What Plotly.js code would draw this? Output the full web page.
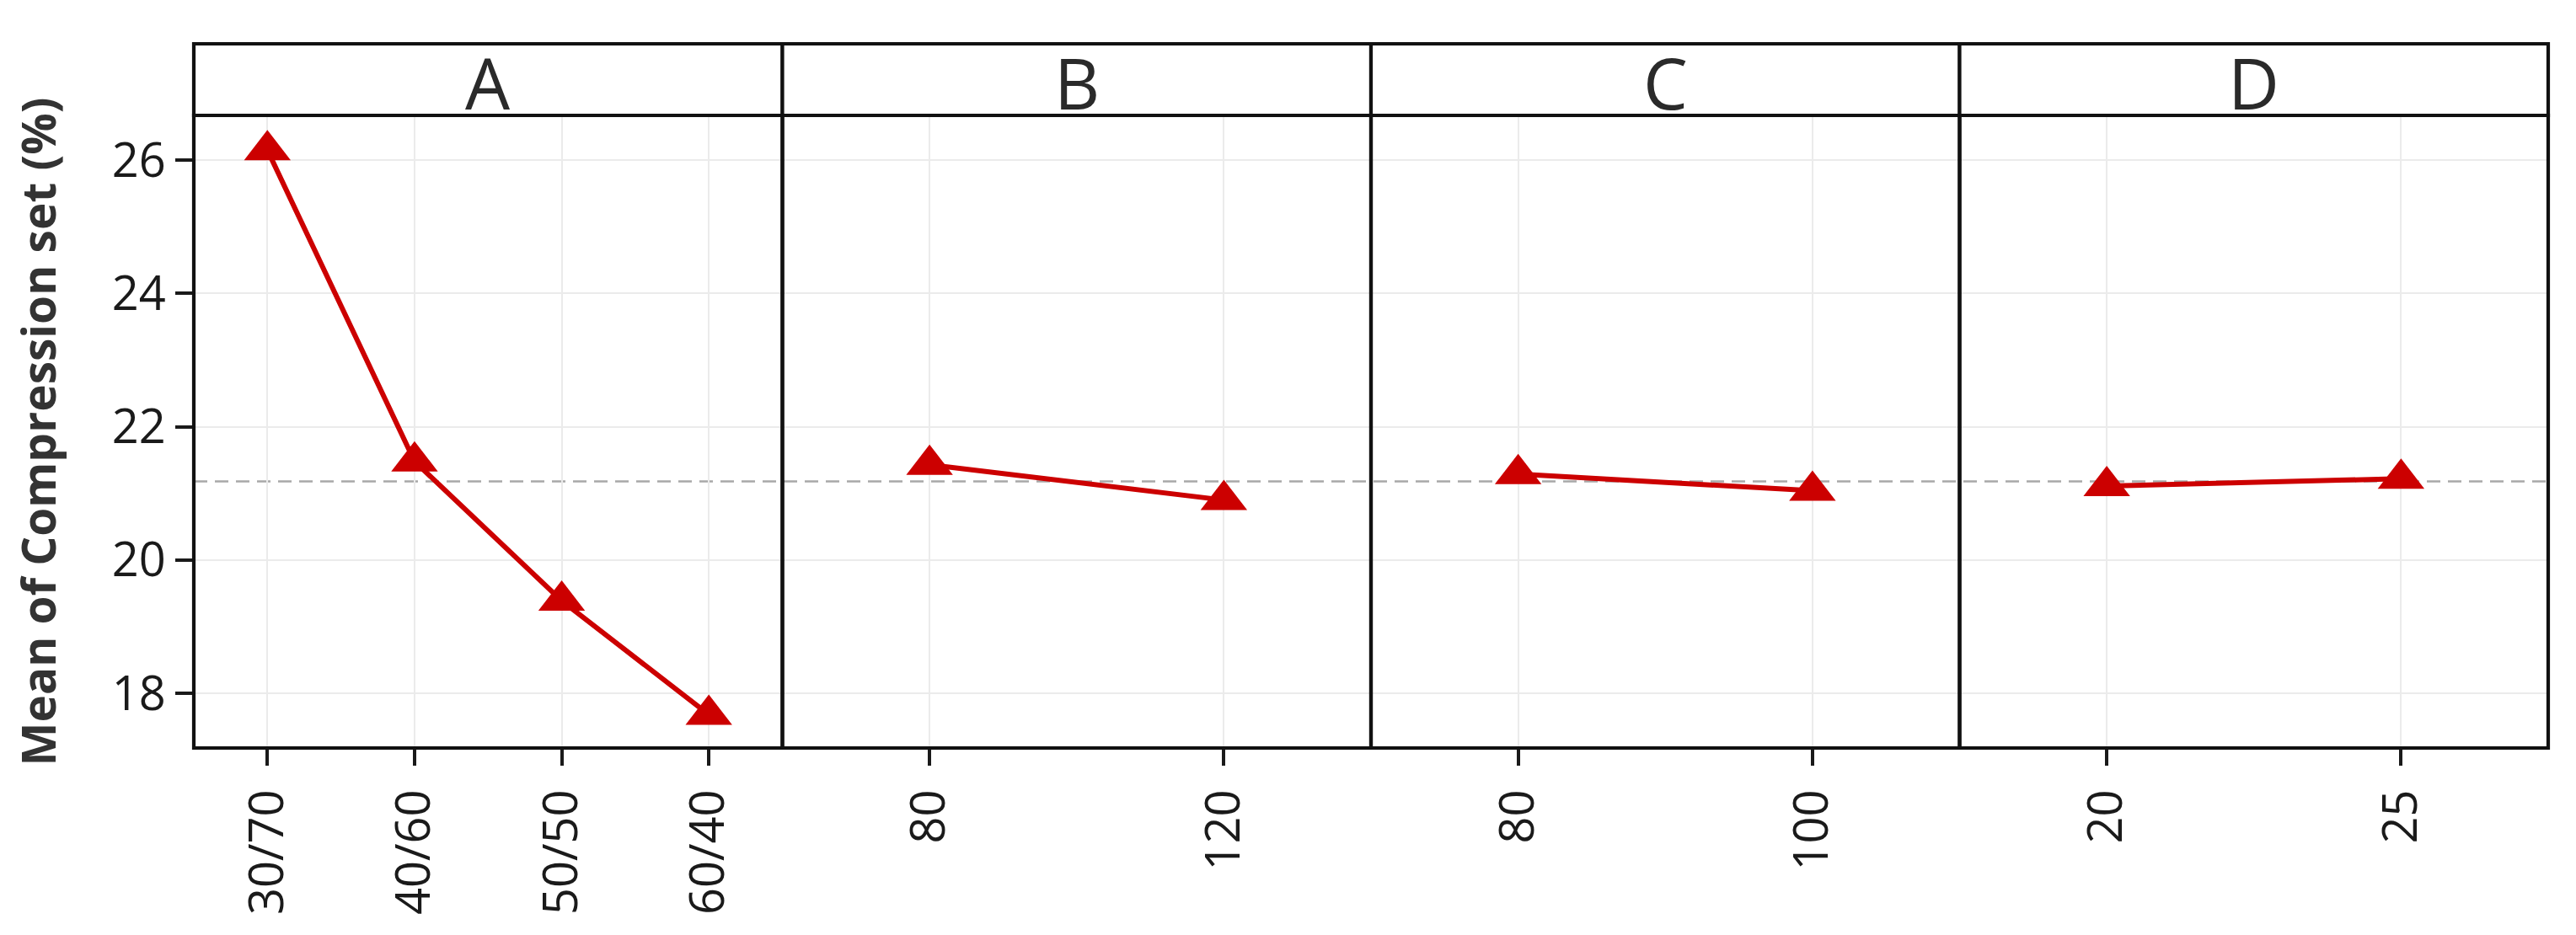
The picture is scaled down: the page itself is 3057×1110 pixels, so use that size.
<!DOCTYPE html>
<html>
<head>
<meta charset="utf-8">
<script src="https://cdn.plot.ly/plotly-3.0.1.min.js"></script>
<style>html,body{margin:0;padding:0;background:#fff;}#chart{width:3057px;height:1110px;}</style>
</head>
<body>
<div id="chart"></div>
<script>
// ---- data ----
const panelLabels = ['A', 'B', 'C', 'D'];
const categoriesA = ['30/70', '40/60', '50/50', '60/40'];
const valuesA = [26.15, 21.48, 19.39, 17.68];
const categoriesB = ['80', '120'];
const valuesB = [21.43, 20.90];
const categoriesC = ['80', '100'];
const valuesC = [21.29, 21.04];
const categoriesD = ['20', '25'];
const valuesD = [21.11, 21.22];
const grandMean = 21.18;
const yTickValues = [18, 20, 22, 24, 26];
const yTitle = 'Mean of Compression set (%)';

const panels = [
  {cats: categoriesA, vals: valuesA},
  {cats: categoriesB, vals: valuesB},
  {cats: categoriesC, vals: valuesC},
  {cats: categoriesD, vals: valuesD}
];

const RED = '#cc0000';
const FONT = 'Open Sans, sans-serif';
const W = 3057, H = 1110;
const margin = {l: 230, r: 33, t: 137, b: 222, pad: 0};
const plotH = H - margin.t - margin.b;
const stripTop = 1 + (137 - 52) / plotH;
const BORDER = 4.2;

const traces = [];
const layout = {
  width: W, height: H,
  margin: margin,
  paper_bgcolor: '#ffffff',
  plot_bgcolor: '#ffffff',
  showlegend: false,
  font: {family: FONT, color: '#1a1a1a'},
  shapes: [],
  annotations: []
};

layout.yaxis = {
  range: [17.18, 26.67],
  tickmode: 'array',
  tickvals: yTickValues,
  ticktext: yTickValues.map(String),
  ticks: 'outside', ticklen: 21, tickwidth: 4, tickcolor: '#1a1a1a',
  tickfont: {family: FONT, size: 56, color: '#1a1a1a'},
  showgrid: true, gridcolor: '#ebebeb', gridwidth: 2,
  zeroline: false, showline: false,
  anchor: 'x',
  title: {text: yTitle, font: {family: FONT, size: 55, color: '#333333', weight: 700}, standoff: 48}
};

panels.forEach((p, i) => {
  const ax = i === 0 ? 'x' : 'x' + (i + 1);
  const axKey = i === 0 ? 'xaxis' : 'xaxis' + (i + 1);
  const d0 = i / 4, d1 = (i + 1) / 4;
  traces.push({
    type: 'scatter', mode: 'lines+markers',
    x: p.cats, y: p.vals,
    xaxis: ax, yaxis: 'y',
    line: {color: RED, width: 6},
    marker: {symbol: 'triangle-up', size: 48, color: RED},
    hoverinfo: 'x+y'
  });
  layout[axKey] = {
    domain: [d0, d1],
    anchor: 'y',
    type: 'category',
    categoryorder: 'array', categoryarray: p.cats,
    range: [-0.5, p.cats.length - 0.5],
    tickangle: -90,
    ticks: 'outside', ticklen: 20, tickwidth: 4, tickcolor: '#1a1a1a',
    tickfont: {family: FONT, size: 56, color: '#1a1a1a'},
    ticklabelstandoff: 6,
    showgrid: true, gridcolor: '#ebebeb', gridwidth: 2,
    zeroline: false, showline: false
  };
  // panel border
  layout.shapes.push({
    type: 'rect', xref: 'paper', yref: 'paper',
    x0: d0, x1: d1, y0: 0, y1: 1,
    line: {color: '#111111', width: BORDER}, fillcolor: 'rgba(0,0,0,0)', layer: 'above'
  });
  // strip box
  layout.shapes.push({
    type: 'rect', xref: 'paper', yref: 'paper',
    x0: d0, x1: d1, y0: 1, y1: stripTop,
    line: {color: '#111111', width: BORDER}, fillcolor: '#ffffff', layer: 'above'
  });
  layout.annotations.push({
    text: panelLabels[i], xref: 'paper', yref: 'paper',
    x: (d0 + d1) / 2, y: 1 + (137 - 97) / plotH,
    xanchor: 'center', yanchor: 'middle', showarrow: false,
    font: {family: FONT, size: 84, color: '#2a2a2a'}
  });
});

// dashed grand-mean reference line
layout.shapes.push({
  type: 'line', xref: 'paper', yref: 'y',
  x0: 0, x1: 1, y0: grandMean, y1: grandMean,
  line: {color: '#a8a8a8', width: 2.5, dash: '16px,9px'}, layer: 'below'
});

Plotly.newPlot('chart', traces, layout, {displayModeBar: false, staticPlot: true});
</script>
</body>
</html>
